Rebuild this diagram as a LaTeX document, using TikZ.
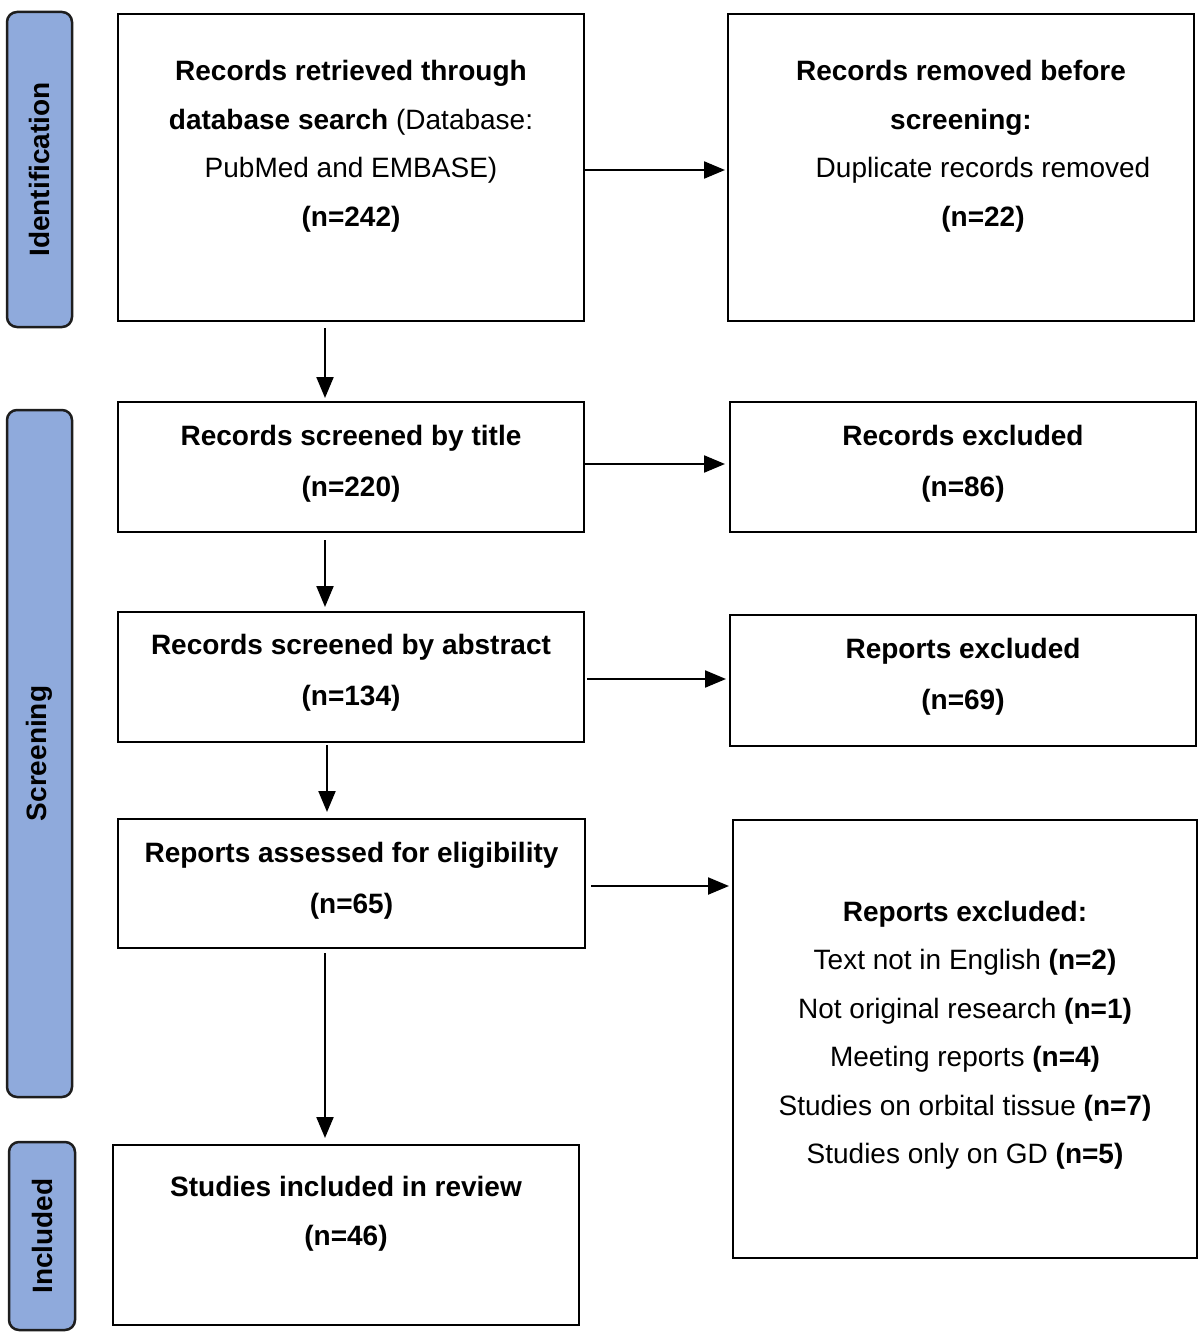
\documentclass[tikz,border=0pt]{standalone}
\usepackage{fontspec}
\setmainfont{Liberation Sans}
\usetikzlibrary{arrows.meta}
\definecolor{phasefill}{HTML}{8FAADC}
\definecolor{phaseline}{HTML}{1E1E1E}
\begin{document}
\begin{tikzpicture}[x=1pt,y=-1pt,
  box/.style={draw=black, line width=2.4pt, inner sep=0pt, outer sep=0pt},
  txt/.style={align=center, inner sep=0pt, font=\fontsize{28}{48.5}\selectfont},
  txttwo/.style={align=center, inner sep=0pt, font=\fontsize{28}{51}\selectfont},
  phase/.style={draw=phaseline, fill=phasefill, line width=2.5pt, rounded corners=10pt,
    rotate=90, inner sep=0pt, font=\fontsize{28}{34}\selectfont\bfseries},
  arr/.style={line width=2.2pt, -{Triangle[length=21pt,width=17pt]}}]
\useasboundingbox (0,0) rectangle (1200,1332);
\fill[white] (0,0) rectangle (1200,1332);
% phase labels
\node[phase, minimum width=315pt, minimum height=65pt] (p1) at (39.5,169.5) {Identification};
\node[phase, minimum width=687pt, minimum height=65pt] (p2) at (39.5,753.5) {Screening};
\node[phase, minimum width=188pt, minimum height=66pt] (p3) at (42,1236) {Included};
% boxes
\node[box, minimum width=466pt, minimum height=307pt] (b1) at (351,167.5) {};
\node[box, minimum width=466pt, minimum height=307pt] (r1) at (961,167.5) {};
\node[box, minimum width=466pt, minimum height=130pt] (b2) at (351,467) {};
\node[box, minimum width=466pt, minimum height=130pt] (r2) at (963,467) {};
\node[box, minimum width=466pt, minimum height=130pt] (b3) at (351,677) {};
\node[box, minimum width=466pt, minimum height=131pt] (r3) at (963,680.5) {};
\node[box, minimum width=467pt, minimum height=129pt] (b4) at (351.5,883.5) {};
\node[box, minimum width=464pt, minimum height=438pt] (r4) at (965,1039) {};
\node[box, minimum width=466pt, minimum height=180pt] (b5) at (346,1235) {};
% texts
\node[txt] (t1) at (351,146.5) {\textbf{Records retrieved through}\\ \textbf{database search} (Database:\\ PubMed and EMBASE)\\ \textbf{(n=242)}};
\node[txt] (tr1) at (961,146.5) {\textbf{Records removed before}\\ \textbf{screening:}\\ \hspace*{44pt}Duplicate records removed\\ \hspace*{44pt}\textbf{(n=22)}};
\node[txttwo] (t2) at (351,463.5) {\textbf{Records screened by title}\\ \textbf{(n=220)}};
\node[txttwo] (tr2) at (963,463.5) {\textbf{Records excluded}\\ \textbf{(n=86)}};
\node[txttwo] (t3) at (351,672.5) {\textbf{Records screened by abstract}\\ \textbf{(n=134)}};
\node[txttwo] (tr3) at (963,677) {\textbf{Reports excluded}\\ \textbf{(n=69)}};
\node[txttwo] (t4) at (351.5,880.5) {\textbf{Reports assessed for eligibility}\\ \textbf{(n=65)}};
\node[txt] (tr4) at (965,1035) {\textbf{Reports excluded:}\\ Text not in English \textbf{(n=2)}\\ Not original research \textbf{(n=1)}\\ Meeting reports \textbf{(n=4)}\\ Studies on orbital tissue \textbf{(n=7)}\\ Studies only on GD \textbf{(n=5)}};
\node[txt] (t5) at (346,1213.5) {\textbf{Studies included in review}\\ \textbf{(n=46)}};
% connectors
\coordinate (vx) at (325,0);
\coordinate (vy) at (327,0);
\draw[arr] (b1.east |- 0,170) -- ([xshift=-3pt]r1.west |- 0,170);
\draw[arr] (b2.east |- 0,464) -- ([xshift=-5pt]r2.west |- 0,464);
\draw[arr] ([xshift=3pt]b3.east |- 0,679) -- ([xshift=-4pt]r3.west |- 0,679);
\draw[arr] ([xshift=6pt]b4.east |- 0,886) -- ([xshift=-4pt]r4.west |- 0,886);
\draw[arr] ([yshift=-7pt]b1.south -| vx) -- ([yshift=4pt]b2.north -| vx);
\draw[arr] ([yshift=-8pt]b2.south -| vx) -- ([yshift=5pt]b3.north -| vx);
\draw[arr] ([yshift=-3pt]b3.south -| vy) -- ([yshift=7pt]b4.north -| vy);
\draw[arr] ([yshift=-5pt]b4.south -| vx) -- ([yshift=7pt]b5.north -| vx);
\end{tikzpicture}
\end{document}
